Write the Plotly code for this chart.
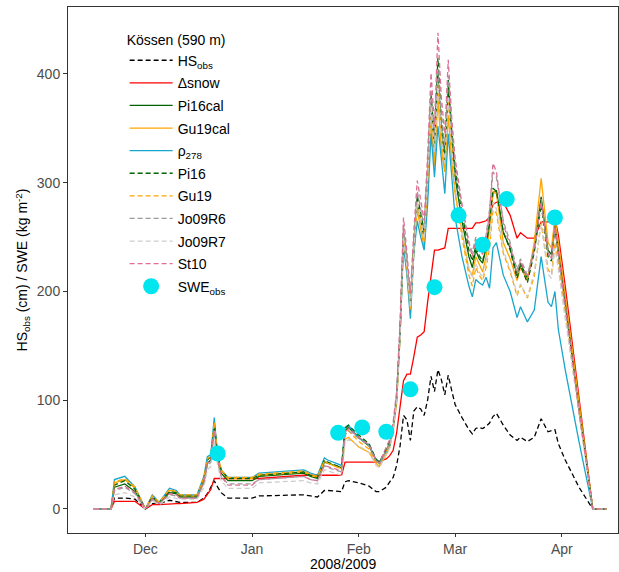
import pandas as pd
import plotly.graph_objects as go

# days after 2008-12-01 for the simulated / observed daily series
day_offset = [-15, -10, -9, -6, -3, 0, 2, 4, 7, 9,
              10, 15, 17, 18, 19, 20, 21, 22, 24, 31,
              33, 46, 48, 50, 52, 53, 57, 58, 59, 62,
              65, 67, 68, 70, 71, 72, 73, 74, 75, 76,
              77, 78, 79, 80, 81, 82, 83, 84, 85, 86,
              87, 88, 89, 90, 92, 94, 95, 96, 97, 98,
              99, 100, 101, 102, 104, 106, 108, 109, 111, 113,
              115, 117, 118, 119, 120, 122, 126, 130, 134]

hs_obs = [0, 0, 10, 10, 9, 0, 5, 5, 8, 7,
          6, 6, 10, 14, 20, 26, 20, 15, 10, 10,
          12, 13, 12, 11, 17, 17, 16, 25, 26, 24,
          21, 16, 16, 20, 25, 29, 40, 58, 86, 82,
          63, 90, 94, 92, 86, 100, 122, 108, 128, 119,
          105, 123, 109, 96, 84, 73, 69, 74, 75, 74,
          76, 79, 85, 88, 77, 68, 63, 66, 62, 66,
          83, 71, 72, 73, 60, 45, 20, 0, 0]

delta_snow = [0, 0, 7, 7, 7, 0, 4, 4, 5, 5,
              5, 6, 9, 14, 18, 28, 28, 28, 28, 28,
              28, 31, 31, 31, 31, 31, 31, 43, 43, 43,
              43, 43, 44, 46, 49, 54, 70, 95, 118, 124,
              124, 140, 158, 160, 163, 190, 215, 238, 238, 239,
              240, 258, 258, 258, 258, 258, 258, 263, 263, 264,
              265, 268, 280, 282, 282, 270, 249, 254, 249, 249,
              264, 264, 264, 267, 252, 205, 102, 0, 0]

pi16cal = [0, 0, 20, 23, 16, 0, 10, 5, 15, 14,
           11, 11, 25, 42, 45, 76, 46, 33, 26, 26,
           30, 33, 30, 28, 43, 42, 38, 72, 75, 66,
           58, 45, 42, 54, 60, 75, 100, 160, 252, 222,
           185, 238, 280, 266, 248, 300, 373, 327, 400, 350,
           321, 388, 340, 305, 265, 232, 222, 238, 230, 226,
           240, 262, 290, 293, 254, 240, 215, 226, 212, 240,
           287, 238, 234, 264, 240, 190, 92, 0, 0]

gu19cal = [0, 0, 24, 27, 19, 0, 12, 6, 17, 16,
           12, 12, 28, 45, 48, 80, 48, 35, 28, 28,
           31, 34, 31, 29, 44, 42, 37, 64, 66, 57,
           52, 42, 39, 50, 57, 72, 97, 158, 248, 218,
           180, 235, 275, 258, 240, 290, 355, 315, 378, 330,
           310, 362, 320, 290, 255, 220, 215, 232, 225, 218,
           232, 258, 292, 290, 245, 230, 210, 222, 210, 245,
           304, 245, 240, 267, 245, 195, 96, 0, 0]

rho278 = [0, 0, 27, 30, 20, 0, 13, 6, 19, 17,
          13, 13, 30, 48, 50, 84, 48, 36, 29, 29,
          33, 36, 33, 31, 47, 45, 40, 75, 77, 65,
          59, 45, 42, 52, 58, 73, 105, 160, 242, 215,
          175, 235, 265, 250, 238, 280, 345, 305, 352, 322,
          290, 345, 305, 268, 232, 205, 195, 211, 208, 206,
          213, 203, 240, 245, 215, 200, 176, 186, 172, 183,
          232, 190, 186, 200, 165, 128, 62, 0, 0]

pi16 = [0, 0, 22, 26, 18, 0, 11, 6, 16, 15,
        12, 12, 28, 45, 48, 78, 50, 36, 28, 28,
        31, 34, 31, 29, 45, 43, 38, 74, 77, 68,
        60, 46, 43, 56, 62, 78, 103, 165, 258, 226,
        190, 245, 288, 272, 255, 310, 383, 338, 415, 360,
        330, 395, 348, 312, 272, 238, 228, 242, 233, 228,
        242, 262, 295, 292, 255, 238, 212, 224, 208, 236,
        280, 232, 228, 258, 236, 188, 92, 0, 0]

gu19 = [0, 0, 25, 28, 20, 0, 12, 6, 18, 16,
        13, 13, 29, 46, 49, 80, 50, 36, 29, 29,
        32, 35, 32, 30, 44, 42, 37, 70, 72, 62,
        55, 43, 40, 52, 59, 75, 100, 162, 252, 220,
        183, 240, 282, 265, 246, 300, 370, 325, 390, 340,
        312, 375, 330, 292, 250, 215, 205, 222, 215, 210,
        222, 240, 275, 272, 235, 218, 196, 206, 194, 214,
        265, 220, 216, 245, 225, 180, 88, 0, 0]

jo09r6 = [0, 0, 17, 20, 14, 0, 9, 5, 13, 12,
          10, 10, 24, 40, 43, 70, 44, 30, 23, 23,
          27, 30, 27, 26, 40, 38, 34, 68, 72, 65,
          58, 44, 41, 54, 60, 76, 102, 164, 260, 228,
          192, 246, 292, 276, 258, 314, 385, 340, 405, 362,
          334, 398, 352, 318, 278, 245, 236, 250, 242, 238,
          252, 275, 310, 305, 265, 245, 220, 230, 215, 240,
          282, 236, 230, 258, 232, 185, 90, 0, 0]

jo09r7 = [0, 0, 13, 15, 11, 0, 7, 4, 11, 10,
          9, 9, 20, 36, 39, 62, 40, 26, 19, 19,
          24, 26, 24, 23, 36, 35, 31, 60, 64, 58,
          52, 40, 38, 50, 56, 72, 98, 155, 250, 222,
          185, 238, 282, 266, 248, 303, 372, 328, 392, 345,
          318, 380, 332, 296, 255, 222, 212, 226, 218, 213,
          226, 246, 282, 276, 238, 220, 198, 207, 195, 218,
          262, 216, 212, 240, 220, 175, 86, 0, 0]

st10 = [0, 0, 18, 21, 15, 0, 9, 5, 14, 13,
        10, 10, 25, 42, 45, 73, 45, 30, 22, 22,
        27, 30, 27, 26, 40, 39, 35, 70, 74, 66,
        59, 45, 42, 57, 64, 80, 108, 172, 268, 236,
        198, 256, 302, 284, 265, 325, 401, 352, 438, 378,
        345, 413, 360, 322, 280, 245, 232, 248, 240, 234,
        248, 272, 318, 310, 262, 242, 216, 228, 212, 238,
        285, 235, 230, 260, 235, 188, 90, 0, 0]

swe_obs_dates = ["2008-12-22", "2009-01-26", "2009-02-02", "2009-02-09", "2009-02-16",
                 "2009-02-23", "2009-03-02", "2009-03-09", "2009-03-16", "2009-03-30"]
swe_obs = [51, 70, 75, 71, 110, 204, 270, 243, 285, 268]

x_tick_dates = ["2008-12-01", "2009-01-01", "2009-02-01", "2009-03-01", "2009-04-01"]
x_tick_labels = ["Dec", "Jan", "Feb", "Mar", "Apr"]
y_tick_values = [0, 100, 200, 300, 400]

dates = pd.Timestamp("2008-12-01") + pd.to_timedelta(day_offset, unit="D")

DASH = "5px,3px"
series = [
    ("HS<sub>obs</sub>", hs_obs, "#000000", DASH),
    ("\u0394snow", delta_snow, "#FF0000", "solid"),
    ("Pi16cal", pi16cal, "#006400", "solid"),
    ("Gu19cal", gu19cal, "#FFA500", "solid"),
    ("\u03c1<sub>278</sub>", rho278, "#17A6CE", "solid"),
    ("Pi16", pi16, "#006400", DASH),
    ("Gu19", gu19, "#FFA500", DASH),
    ("Jo09R6", jo09r6, "#9A9A9A", DASH),
    ("Jo09R7", jo09r7, "#CDCDCD", DASH),
    ("St10", st10, "#DB7093", DASH),
]

fig = go.Figure()
for i, (name, vals, color, dash) in enumerate(series):
    fig.add_trace(go.Scatter(
        x=dates, y=vals, mode="lines", name=name, legendgroup=f"g{i}",
        line=dict(color=color, width=1.3, dash=dash),
    ))

fig.add_trace(go.Scatter(
    x=pd.to_datetime(swe_obs_dates), y=swe_obs, mode="markers",
    name="SWE<sub>obs</sub>", legendgroup="gobs",
    marker=dict(color="#00E5EE", size=16, line=dict(width=0)),
))

FONT = "Liberation Sans, Arial, sans-serif"
fig.update_layout(
    width=619, height=572,
    margin=dict(l=68, r=1, t=7, b=39),
    paper_bgcolor="white", plot_bgcolor="white",
    font=dict(family=FONT, size=14, color="#000000"),
    showlegend=True,
    legend=dict(
        x=0.103, y=0.963, xanchor="left", yanchor="top",
        bgcolor="rgba(0,0,0,0)", borderwidth=0,
        font=dict(family=FONT, size=14, color="#000000"),
        title=dict(text="K\u00f6ssen (590 m)", font=dict(family=FONT, size=14, color="#000000")),
        itemwidth=43, tracegroupgap=1.4, traceorder="grouped",
    ),
    xaxis=dict(
        range=["2008-11-08 12:00", "2009-04-17 08:00"],
        tickvals=pd.to_datetime(x_tick_dates), ticktext=x_tick_labels,
        ticks="outside", ticklen=3, tickcolor="#333333",
        tickfont=dict(family=FONT, size=14, color="#4D4D4D"),
        showline=True, linecolor="#333333", linewidth=1, mirror=True,
        showgrid=False, zeroline=False, automargin=False,
    ),
    yaxis=dict(
        range=[-22.1, 461.6],
        tickvals=y_tick_values,
        ticks="outside", ticklen=4, tickcolor="#333333",
        tickfont=dict(family=FONT, size=14, color="#4D4D4D"),
        showline=True, linecolor="#333333", linewidth=1, mirror=True,
        showgrid=False, zeroline=False, automargin=False,
        title=dict(text="HS<sub>obs</sub> (cm) / SWE (kg m<sup>-2</sup>)",
                   font=dict(family=FONT, size=14, color="#000000"), standoff=5),
    ),
    annotations=[dict(
        text="2008/2009", xref="paper", yref="paper", x=0.5, y=-0.059,
        xanchor="center", yanchor="middle", showarrow=False,
        font=dict(family=FONT, size=14, color="#000000"),
    )],
)

fig.write_html("out.html", config={"displayModeBar": False},
               post_script="document.body.style.margin='0';document.body.style.overflow='hidden';")
